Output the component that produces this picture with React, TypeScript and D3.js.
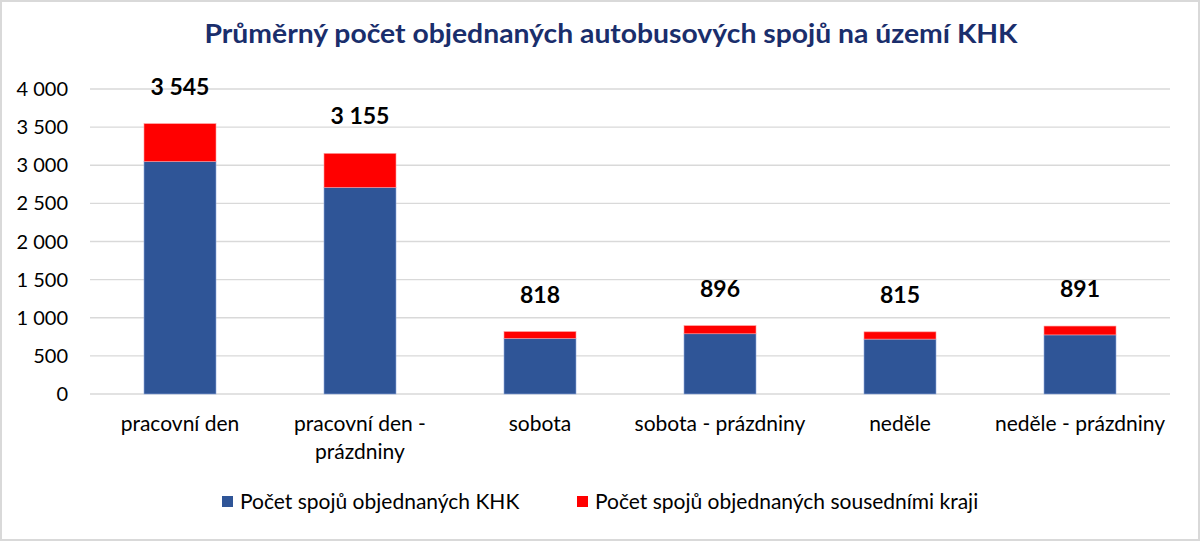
import * as d3 from "d3";
import { useEffect, useRef } from "react";

const categories = [
  "pracovní den",
  "pracovní den - prázdniny",
  "sobota",
  "sobota - prázdniny",
  "neděle",
  "neděle - prázdniny"
];
// how the category labels wrap under the axis
const categoryLines = [
  ["pracovní den"],
  ["pracovní den -", "prázdniny"],
  ["sobota"],
  ["sobota - prázdniny"],
  ["neděle"],
  ["neděle - prázdniny"]
];
const khk = [3050, 2710, 730, 790, 720, 775];
const neighbours = [495, 445, 88, 106, 95, 116];
const totals = [3545, 3155, 818, 896, 815, 891];
const yTicks = [0, 500, 1000, 1500, 2000, 2500, 3000, 3500, 4000];
const seriesNames = ["Počet spojů objednaných KHK", "Počet spojů objednaných sousedními kraji"];
const colors = ["#2F5597", "#FF0000"];

const W = 1200;
const H = 541;
const FONT = "Lato, 'Open Sans', sans-serif";

const fmt = (v: number) => d3.format(",")(v).replace(/,/g, " ");

export default function App() {
  const ref = useRef<SVGSVGElement | null>(null);

  useEffect(() => {
    if (!ref.current) return;
    const svg = d3.select(ref.current);
    svg.selectAll("*").remove();

    const margin = { top: 89, right: 30, bottom: 147, left: 90 };
    const innerW = W - margin.left - margin.right;
    const innerH = H - margin.top - margin.bottom;

    const x = d3.scaleBand().domain(categories).range([0, innerW]).paddingInner(0.6).paddingOuter(0.3);
    const y = d3.scaleLinear().domain([0, 4000]).range([innerH, 0]);

    // frame
    svg.append("rect")
      .attr("x", 1).attr("y", 1)
      .attr("width", W - 2).attr("height", H - 2)
      .attr("fill", "#fff")
      .attr("stroke", "#d9d9d9")
      .attr("stroke-width", 2);

    svg.append("text")
      .attr("x", 611).attr("y", 43)
      .attr("text-anchor", "middle")
      .attr("font-family", FONT)
      .attr("font-weight", "bold")
      .attr("font-size", 26)
      .attr("fill", "#1A2E6C")
      .attr("textLength", 813)
      .attr("lengthAdjust", "spacingAndGlyphs")
      .text("Průměrný počet objednaných autobusových spojů na území KHK");

    const g = svg.append("g").attr("transform", `translate(${margin.left},${margin.top})`);

    // grid + y labels
    g.append("g")
      .selectAll("line")
      .data(yTicks)
      .join("line")
      .attr("x1", 0).attr("x2", innerW)
      .attr("y1", d => y(d)).attr("y2", d => y(d))
      .attr("stroke", "#d9d9d9")
      .attr("stroke-width", 1.3);

    g.append("g")
      .selectAll("text")
      .data(yTicks)
      .join("text")
      .attr("x", -22)
      .attr("y", d => y(d))
      .attr("dy", "0.35em")
      .attr("text-anchor", "end")
      .attr("font-family", FONT)
      .attr("font-size", 20)
      .attr("fill", "#000")
      .text(d => fmt(d));

    const stacked = categories.map((c, i) => ({ c, a: khk[i], b: neighbours[i] }));

    g.append("g")
      .selectAll("rect")
      .data(stacked)
      .join("rect")
      .attr("x", d => x(d.c)!)
      .attr("width", x.bandwidth())
      .attr("y", d => y(d.a))
      .attr("height", d => y(0) - y(d.a))
      .attr("fill", colors[0])
      .attr("stroke", "#8faadc")
      .attr("stroke-width", 0.6);

    g.append("g")
      .selectAll("rect")
      .data(stacked)
      .join("rect")
      .attr("x", d => x(d.c)!)
      .attr("width", x.bandwidth())
      .attr("y", d => y(d.a + d.b))
      .attr("height", d => y(d.a) - y(d.a + d.b))
      .attr("fill", colors[1])
      .attr("stroke", "#ff9999")
      .attr("stroke-width", 0.6);

    // totals
    g.append("g")
      .selectAll("text")
      .data(totals)
      .join("text")
      .attr("x", (_, i) => x(categories[i])! + x.bandwidth() / 2)
      .attr("y", d => y(d) - 29)
      .attr("text-anchor", "middle")
      .attr("font-family", FONT)
      .attr("font-weight", "bold")
      .attr("font-size", 23)
      .attr("fill", "#000")
      .text(d => fmt(d));

    // category labels
    const cl = g.append("g").attr("transform", `translate(0,${innerH})`);
    categories.forEach((c, i) => {
      const t = cl.append("text")
        .attr("x", x(c)! + x.bandwidth() / 2)
        .attr("y", 37)
        .attr("text-anchor", "middle")
        .attr("font-family", FONT)
        .attr("font-size", 21)
        .attr("fill", "#000");
      categoryLines[i].forEach((line, j) => {
        t.append("tspan")
          .attr("x", x(c)! + x.bandwidth() / 2)
          .attr("dy", j === 0 ? 0 : 28)
          .text(line);
      });
    });

    // legend
    const legendX = [222, 577];
    const lg = svg.append("g").attr("transform", "translate(0,502)");
    seriesNames.forEach((name, i) => {
      lg.append("rect")
        .attr("x", legendX[i]).attr("y", -6)
        .attr("width", 11).attr("height", 11)
        .attr("fill", colors[i]);
      lg.append("text")
        .attr("x", legendX[i] + 18)
        .attr("y", 0)
        .attr("dy", "0.35em")
        .attr("font-family", FONT)
        .attr("font-size", 21)
        .attr("fill", "#000")
        .text(name);
    });
  }, []);

  return (
    <div style={{ position: "absolute", left: 0, top: 0 }}>
      <svg ref={ref} width={W} height={H} style={{ display: "block" }} />
    </div>
  );
}
